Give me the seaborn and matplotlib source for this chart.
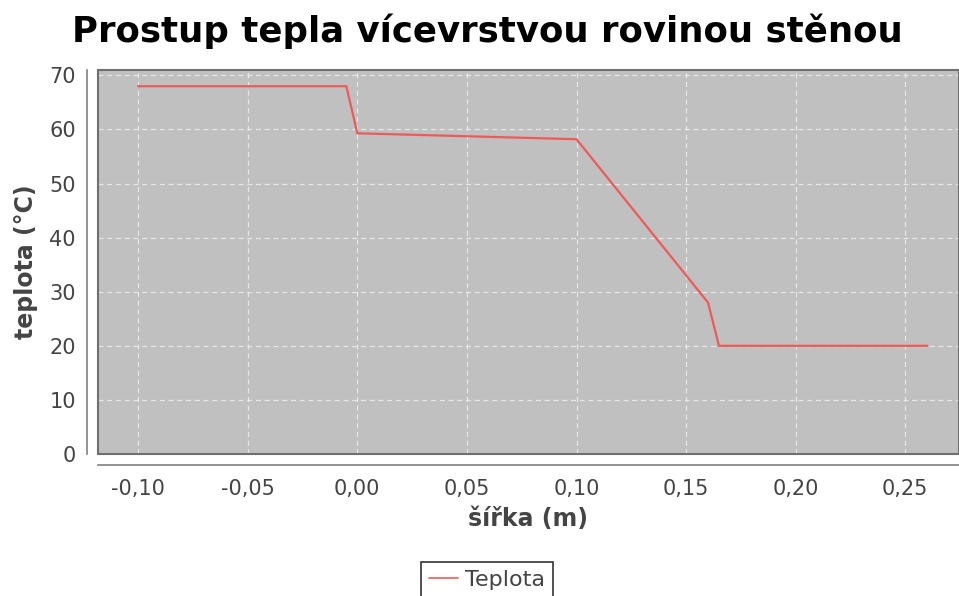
import numpy as np
import pandas as pd
import matplotlib
matplotlib.use("Agg")
import matplotlib.pyplot as plt
import seaborn as sns
from matplotlib.patches import Rectangle

# data
sirka = [-0.10, -0.005, 0.0, 0.10, 0.16, 0.165, 0.26]
teplota = [68.0, 68.0, 59.3, 58.2, 28.0, 20.0, 20.0]
x_ticks = [-0.10, -0.05, 0.0, 0.05, 0.10, 0.15, 0.20, 0.25]
y_ticks = [0, 10, 20, 30, 40, 50, 60, 70]

df = pd.DataFrame({"sirka": sirka, "teplota": teplota, "serie": "Teplota"})

sns.set_style("whitegrid")
plt.rcParams['font.family'] = ['DejaVu Sans']

fig = plt.figure(figsize=(9.59, 5.96), dpi=100)
ax = fig.add_axes([98 / 959, 1 - 454 / 596, 861 / 959, 384 / 596])
ax.set_facecolor("#C0C0C0")

sns.lineplot(data=df, x="sirka", y="teplota", hue="serie", sort=False,
             palette=["#EE5A5A"], linewidth=1.6, ax=ax, legend=False)

ax.set_xlim(-0.1183, 0.2745)
ax.set_ylim(0, 71)
ax.set_xticks(x_ticks)
ax.set_yticks(y_ticks)
ax.set_xticklabels([f"{v:.2f}".replace(".", ",") for v in x_ticks])
ax.set_yticklabels([str(v) for v in y_ticks])

ax.grid(True, color="#EEEEEE", linestyle=(0, (4, 3)), linewidth=0.9, alpha=0.85)

for side in ["top", "right"]:
    ax.spines[side].set_visible(False)
ax.spines["bottom"].set_position(("outward", 8))
ax.spines["left"].set_position(("outward", 8))
ax.spines["bottom"].set_color("#808080")
ax.spines["left"].set_color("#808080")
ax.spines["bottom"].set_linewidth(1.2)
ax.spines["left"].set_linewidth(1.2)

# plot outline like the original
ax.add_patch(Rectangle((0, 0), 1, 1, transform=ax.transAxes, fill=False,
                       edgecolor="#707070", linewidth=1.5, clip_on=False, zorder=5))

ax.tick_params(axis="both", colors="#808080", labelcolor="#444444",
               labelsize=15, length=4, width=1)
ax.tick_params(axis="x", pad=6)
ax.tick_params(axis="y", pad=4)

ax.set_xlabel("šířka (m)", fontsize=17, fontweight="bold", color="#444444", labelpad=6)
ax.set_ylabel("teplota (°C)", fontsize=17, fontweight="bold", color="#444444", labelpad=8)

fig.text(487 / 959, 1 - 31 / 596, "Prostup tepla vícevrstvou rovinou stěnou",
         ha="center", va="center", fontsize=25.6, fontweight="heavy", color="black")

handle = plt.Line2D([], [], color="#EE5A5A", linewidth=1.2)
leg = fig.legend([handle], ["Teplota"], loc="center", bbox_to_anchor=(487 / 959, 1 - 580 / 596),
                 frameon=True, fancybox=False, fontsize=16, handlelength=1.3,
                 handletextpad=0.3, borderpad=0.35, borderaxespad=0)
leg.get_frame().set_edgecolor("black")
leg.get_frame().set_linewidth(1.2)
for t in leg.get_texts():
    t.set_color("#444444")

fig.savefig("out.png", dpi=100)
